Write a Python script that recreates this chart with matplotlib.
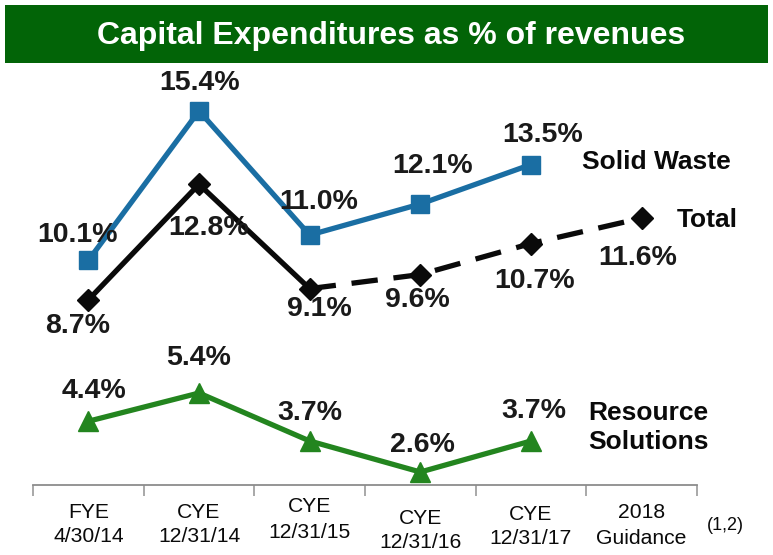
import matplotlib
matplotlib.use("Agg")
import matplotlib.pyplot as plt
from matplotlib.patches import Rectangle
from matplotlib.transforms import blended_transform_factory

# ---------------- data ----------------
cat_line1 = ["FYE", "CYE", "CYE", "CYE", "CYE", "2018"]
cat_line2 = ["4/30/14", "12/31/14", "12/31/15", "12/31/16", "12/31/17", "Guidance"]
solid_waste = [10.1, 15.4, 11.0, 12.1, 13.5]
total = [8.7, 12.8, 9.1, 9.6, 10.7, 11.6]
resource_solutions = [4.4, 5.4, 3.7, 2.6, 3.7]
title = "Capital Expenditures as % of revenues"
footnote = "(1,2)"

# ---------------- styles ----------------
W, H = 773, 555
BLUE = "#1a6ea3"
GREEN = "#23851f"
BLACK = "#0a0a0a"
TXT = "#1a1a1a"
TITLE_BG = "#026407"
FONT = ["Liberation Sans", "DejaVu Sans"]
plt.rcParams["font.family"] = FONT

# label offsets in pixels (dx, dy)
sw_off = [(-11, 25), (1, 28), (9, 33), (12, 38), (12, 30)]
tot_off = [(-11, -26), (10, -44), (10, -20), (-3, -25), (4, -37), (-4, -40)]
rs_off = [(6, 30), (0, 35), (0, 28), (2, 27), (3, 30)]
xlab_y = [(512, 537), (512, 537), (506, 532), (518, 543), (515, 539), (513, 539)]

fig = plt.figure(figsize=(W / 100, H / 100), dpi=100)
fig.patch.set_facecolor("white")

# title banner
fig.patches.append(Rectangle((5 / W, 1 - 63 / H), 763 / W, 58 / H,
                             transform=fig.transFigure, facecolor=TITLE_BG,
                             edgecolor="none", zorder=0))
fig.text(391 / W, 1 - 36 / H, title, color="white", fontsize=23,
         fontweight="bold", ha="center", va="center")

ax = fig.add_axes([33 / W, (H - 485) / H, 664 / W, 415 / H])
ax.set_xlim(-0.5, 5.5)
ax.set_ylim(2.14, 16.85)
ax.set_facecolor("none")
for s in ["top", "right", "left"]:
    ax.spines[s].set_visible(False)
ax.spines["bottom"].set_color("#8c8c8c")
ax.spines["bottom"].set_linewidth(1.3)
ax.set_yticks([])
ax.set_xticks([i - 0.5 for i in range(len(cat_line1) + 1)])
ax.set_xticklabels([])
ax.tick_params(axis="x", direction="out", length=8, width=1.2, colors="#9a9a9a")

x_sw = list(range(len(solid_waste)))
x_tot = list(range(len(total)))
x_rs = list(range(len(resource_solutions)))

# Solid Waste
ax.plot(x_sw, solid_waste, color=BLUE, lw=3.8, marker="s", ms=13,
        markeredgecolor=BLUE, zorder=3, solid_joinstyle="miter")
# Total: solid for actual through CYE 12/31/15, dashed after
ax.plot(x_tot[:3], total[:3], color=BLACK, lw=3.8, zorder=4)
ax.plot(x_tot[2:], total[2:], color=BLACK, lw=3.8, dashes=(5, 3), zorder=4)
ax.plot(x_tot, total, ls="none", marker="D", ms=11.5, color=BLACK, zorder=5)
# Resource Solutions
ax.plot(x_rs, resource_solutions, color=GREEN, lw=3.8, marker="^", ms=15,
        markeredgecolor=GREEN, zorder=3)

lab_kw = dict(textcoords="offset pixels", ha="center", va="center",
              fontsize=20.5, fontweight="bold", color=TXT, zorder=6)
for x, v, o in zip(x_sw, solid_waste, sw_off):
    ax.annotate(f"{v:.1f}%", (x, v), xytext=o, **lab_kw)
for x, v, o in zip(x_tot, total, tot_off):
    ax.annotate(f"{v:.1f}%", (x, v), xytext=o, **lab_kw)
for x, v, o in zip(x_rs, resource_solutions, rs_off):
    ax.annotate(f"{v:.1f}%", (x, v), xytext=o, **lab_kw)

# series names
name_kw = dict(fontsize=19, fontweight="bold", color=BLACK, ha="left", va="center")
fig.text(582 / W, 1 - 162 / H, "Solid Waste", **name_kw)
fig.text(677 / W, 1 - 220 / H, "Total", **name_kw)
fig.text(588 / W, 1 - 413 / H, "Resource", **name_kw)
fig.text(588 / W, 1 - 442 / H, "Solutions", **name_kw)

# category labels
tr = blended_transform_factory(ax.transData, fig.transFigure)
for i, (a, b) in enumerate(zip(cat_line1, cat_line2)):
    y1, y2 = xlab_y[i]
    ax.text(i, 1 - y1 / H, a, transform=tr, ha="center", va="center",
            fontsize=15.2, color=BLACK, clip_on=False)
    ax.text(i, 1 - y2 / H, b, transform=tr, ha="center", va="center",
            fontsize=15.2, color=BLACK, clip_on=False)
fig.text(725 / W, 1 - 525 / H, footnote, fontsize=13, color=BLACK,
         ha="center", va="center")

fig.savefig("out.png", dpi=100)
